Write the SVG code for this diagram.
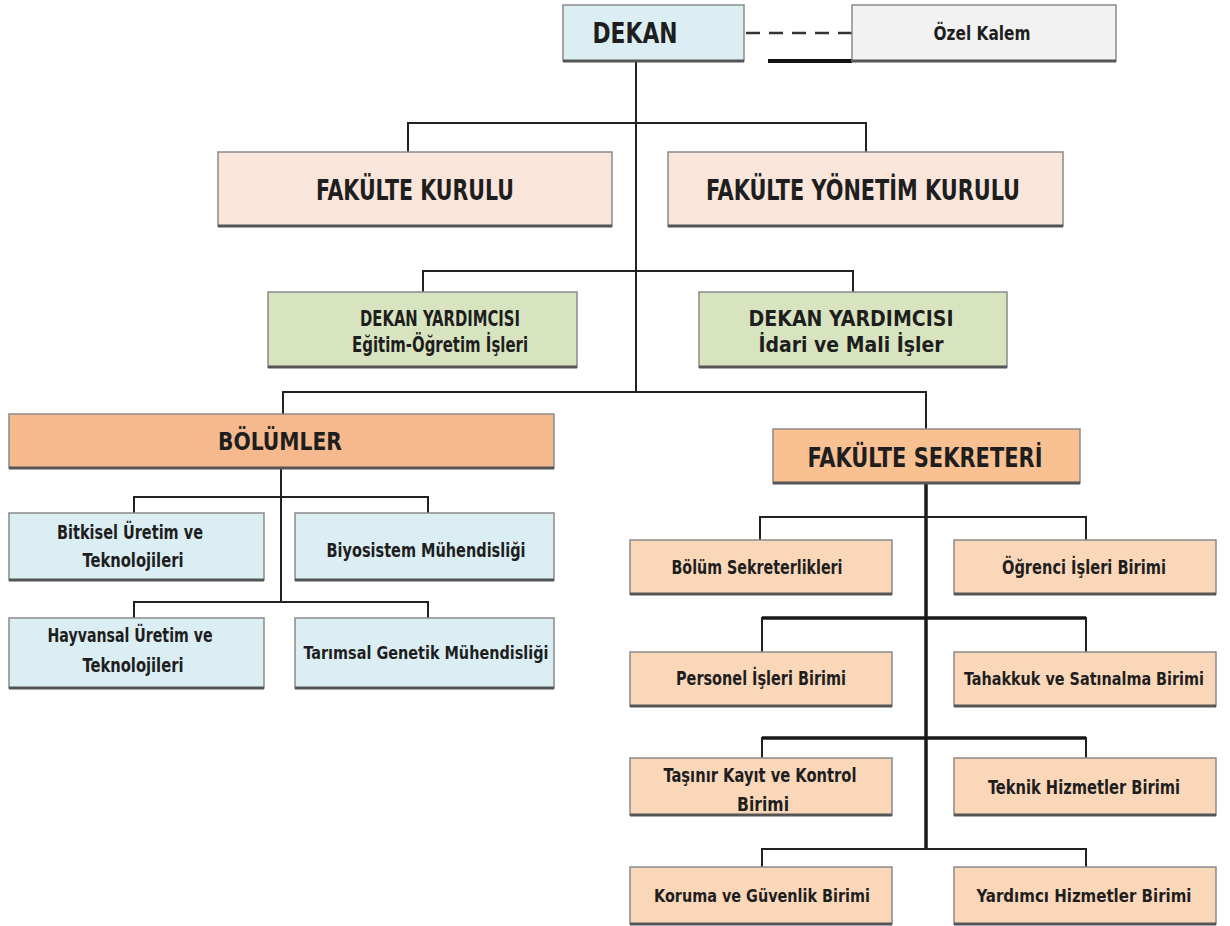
<svg xmlns="http://www.w3.org/2000/svg" width="1230" height="926" viewBox="0 0 1230 926">
<style>
.bx{stroke:#8a8a8a;stroke-width:1.5}
.sh{stroke:#555;stroke-width:3}
.t{font-family:"DejaVu Sans Condensed","Liberation Sans Narrow","Liberation Sans",sans-serif;font-stretch:condensed;font-weight:bold;fill:#1e1e1e;text-anchor:middle}
.c{fill:none;stroke:#222;stroke-width:2}
.ck{fill:none;stroke:#1a1a1a;stroke-width:3.5}
.blue{fill:#dbeef3}
.gray{fill:#f2f2f2}
.peach{fill:#f9e5da}
.green{fill:#d8e4c0}
.orange{fill:#f5b98d}
.orange2{fill:#f9c092}
.sub{fill:#fbd7ba}
</style>
<rect width="1230" height="926" fill="#ffffff"/>
<g id="connectors">
<path class="c" d="M636 61V392"/>
<path class="c" d="M408 152V123H866V152"/>
<path class="c" d="M423 292V271H853V292"/>
<path class="c" d="M283 414V392H926V429"/>
<path class="c" d="M281 468V603"/>
<path class="c" d="M134 513V497H428V513"/>
<path class="c" d="M134 618V602H428V618"/>
<path class="ck" d="M926 483V849"/>
<path class="c" d="M760 540V517H1086V540"/>
<path class="c" d="M762 652V618H1086V652"/>
<path class="ck" d="M762 618H1086"/>
<path class="c" d="M762 758V738H1086V758"/>
<path class="ck" d="M762 738H1086"/>
<path class="c" d="M762 867V849H1086V867"/>
<path fill="none" stroke="#333" stroke-width="2.5" stroke-dasharray="14,9" d="M746 33H852"/>
<path fill="none" stroke="#111" stroke-width="4" d="M768 61H852"/>
</g>
<g id="dekan">
<rect class="bx blue" x="563" y="5" width="181" height="56"/>
<line class="sh" x1="563" y1="61" x2="744" y2="61"/>
<text class="t" x="635" y="43" font-size="28" textLength="85" lengthAdjust="spacingAndGlyphs">DEKAN</text>
</g>
<g id="ozel-kalem">
<rect class="bx gray" x="852" y="5" width="264" height="56"/>
<line class="sh" x1="852" y1="61" x2="1116" y2="61"/>
<text class="t" x="982" y="40" font-size="19" textLength="97" lengthAdjust="spacingAndGlyphs">Özel Kalem</text>
</g>
<g id="fakulte-kurulu">
<rect class="bx peach" x="218" y="152" width="394" height="74"/>
<line class="sh" x1="218" y1="226" x2="612" y2="226"/>
<text class="t" x="415" y="200" font-size="28" textLength="198" lengthAdjust="spacingAndGlyphs">FAKÜLTE KURULU</text>
</g>
<g id="fakulte-yonetim-kurulu">
<rect class="bx peach" x="668" y="152" width="395" height="74"/>
<line class="sh" x1="668" y1="226" x2="1063" y2="226"/>
<text class="t" x="863" y="200" font-size="28" textLength="314" lengthAdjust="spacingAndGlyphs">FAKÜLTE  YÖNETİM KURULU</text>
</g>
<g id="dy-egitim">
<rect class="bx green" x="268" y="292" width="309" height="75"/>
<line class="sh" x1="268" y1="367" x2="577" y2="367"/>
<text class="t" x="440" y="326" font-size="21" textLength="160" lengthAdjust="spacingAndGlyphs">DEKAN YARDIMCISI</text>
<text class="t" x="440" y="352" font-size="21" textLength="176" lengthAdjust="spacingAndGlyphs">Eğitim-Öğretim İşleri</text>
</g>
<g id="dy-idari">
<rect class="bx green" x="699" y="292" width="308" height="75"/>
<line class="sh" x1="699" y1="367" x2="1007" y2="367"/>
<text class="t" x="851" y="326" font-size="21" textLength="205" lengthAdjust="spacingAndGlyphs">DEKAN YARDIMCISI</text>
<text class="t" x="851" y="352" font-size="21" textLength="185" lengthAdjust="spacingAndGlyphs">İdari ve Mali İşler</text>
</g>
<g id="bolumler">
<rect class="bx orange" x="9" y="414" width="545" height="54"/>
<line class="sh" x1="9" y1="468" x2="554" y2="468"/>
<text class="t" x="280" y="450" font-size="25" textLength="124" lengthAdjust="spacingAndGlyphs">BÖLÜMLER</text>
</g>
<g id="fakulte-sekreteri">
<rect class="bx orange2" x="773" y="429" width="307" height="54"/>
<line class="sh" x1="773" y1="483" x2="1080" y2="483"/>
<text class="t" x="925" y="467" font-size="26" textLength="235" lengthAdjust="spacingAndGlyphs">FAKÜLTE  SEKRETERİ</text>
</g>
<g id="bitkisel">
<rect class="bx blue" x="9" y="513" width="255" height="67"/>
<line class="sh" x1="9" y1="580" x2="264" y2="580"/>
<text class="t" x="130" y="539" font-size="20" textLength="146" lengthAdjust="spacingAndGlyphs">Bitkisel Üretim ve</text>
<text class="t" x="133" y="567" font-size="20" textLength="101" lengthAdjust="spacingAndGlyphs">Teknolojileri</text>
</g>
<g id="biyosistem">
<rect class="bx blue" x="295" y="513" width="259" height="67"/>
<line class="sh" x1="295" y1="580" x2="554" y2="580"/>
<text class="t" x="426" y="557" font-size="20" textLength="199" lengthAdjust="spacingAndGlyphs">Biyosistem Mühendisliği</text>
</g>
<g id="hayvansal">
<rect class="bx blue" x="9" y="618" width="255" height="70"/>
<line class="sh" x1="9" y1="688" x2="264" y2="688"/>
<text class="t" x="130" y="642" font-size="20" textLength="165" lengthAdjust="spacingAndGlyphs">Hayvansal Üretim ve</text>
<text class="t" x="133" y="672" font-size="20" textLength="101" lengthAdjust="spacingAndGlyphs">Teknolojileri</text>
</g>
<g id="tarimsal">
<rect class="bx blue" x="295" y="618" width="259" height="70"/>
<line class="sh" x1="295" y1="688" x2="554" y2="688"/>
<text class="t" x="426" y="659" font-size="18" textLength="245" lengthAdjust="spacingAndGlyphs">Tarımsal Genetik Mühendisliği</text>
</g>
<g id="bolum-sekreterlikleri">
<rect class="bx sub" x="630" y="540" width="262" height="54"/>
<line class="sh" x1="630" y1="594" x2="892" y2="594"/>
<text class="t" x="757" y="574" font-size="20" textLength="171" lengthAdjust="spacingAndGlyphs">Bölüm Sekreterlikleri</text>
</g>
<g id="ogrenci-isleri">
<rect class="bx sub" x="954" y="540" width="262" height="54"/>
<line class="sh" x1="954" y1="594" x2="1216" y2="594"/>
<text class="t" x="1084" y="574" font-size="20" textLength="164" lengthAdjust="spacingAndGlyphs">Öğrenci İşleri Birimi</text>
</g>
<g id="personel-isleri">
<rect class="bx sub" x="630" y="652" width="262" height="54"/>
<line class="sh" x1="630" y1="706" x2="892" y2="706"/>
<text class="t" x="761" y="685" font-size="20" textLength="170" lengthAdjust="spacingAndGlyphs">Personel İşleri Birimi</text>
</g>
<g id="tahakkuk">
<rect class="bx sub" x="954" y="652" width="262" height="54"/>
<line class="sh" x1="954" y1="706" x2="1216" y2="706"/>
<text class="t" x="1084" y="685" font-size="17" textLength="240" lengthAdjust="spacingAndGlyphs">Tahakkuk ve Satınalma  Birimi</text>
</g>
<g id="tasinir">
<rect class="bx sub" x="630" y="758" width="262" height="57"/>
<line class="sh" x1="630" y1="815" x2="892" y2="815"/>
<text class="t" x="760" y="782" font-size="20" textLength="193" lengthAdjust="spacingAndGlyphs">Taşınır Kayıt ve Kontrol</text>
<text class="t" x="763" y="811" font-size="20" textLength="52" lengthAdjust="spacingAndGlyphs">Birimi</text>
</g>
<g id="teknik-hizmetler">
<rect class="bx sub" x="954" y="758" width="262" height="57"/>
<line class="sh" x1="954" y1="815" x2="1216" y2="815"/>
<text class="t" x="1084" y="794" font-size="20" textLength="192" lengthAdjust="spacingAndGlyphs">Teknik Hizmetler Birimi</text>
</g>
<g id="koruma-guvenlik">
<rect class="bx sub" x="630" y="867" width="262" height="57"/>
<line class="sh" x1="630" y1="924" x2="892" y2="924"/>
<text class="t" x="762" y="902" font-size="18" textLength="216" lengthAdjust="spacingAndGlyphs">Koruma ve Güvenlik Birimi</text>
</g>
<g id="yardimci-hizmetler">
<rect class="bx sub" x="954" y="867" width="262" height="57"/>
<line class="sh" x1="954" y1="924" x2="1216" y2="924"/>
<text class="t" x="1084" y="902" font-size="18" textLength="215" lengthAdjust="spacingAndGlyphs">Yardımcı Hizmetler Birimi</text>
</g>
</svg>
